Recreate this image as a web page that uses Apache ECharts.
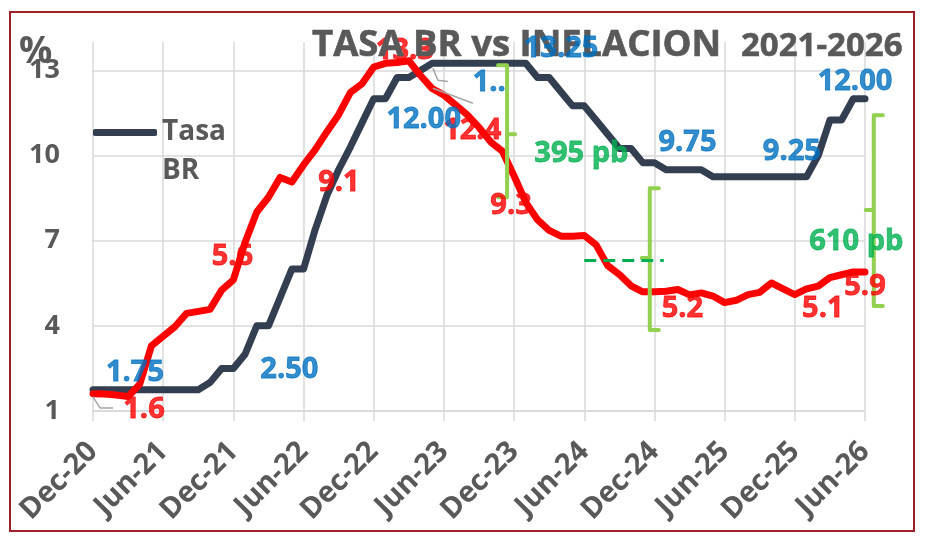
<!DOCTYPE html>
<html>
<head>
<meta charset="utf-8">
<script src="https://cdn.jsdelivr.net/npm/echarts@6/dist/echarts.min.js"></script>
<style>
html, body { margin: 0; padding: 0; background: #fff; }
#chart { width: 928px; height: 548px; }
</style>
</head>
<body>
<div id="chart"></div>
<script>
// etiquetas del eje x, una cada 6 meses (Dec-20 ... Jun-26)
var months = ['Dec-20', 'Jun-21', 'Dec-21', 'Jun-22', 'Dec-22', 'Jun-23',
    'Dec-23', 'Jun-24', 'Dec-24', 'Jun-25', 'Dec-25', 'Jun-26'];

// Tasa BR mensual, desde Dec-20 (indice 0) hasta Jun-26 (indice 66)
var tasaBR = [1.75, 1.75, 1.75, 1.75, 1.75, 1.75, 1.75, 1.75, 1.75, 1.75,
    2.0, 2.5, 2.5, 3.0, 4.0, 4.0, 5.0, 6.0, 6.0, 7.4,
    8.6, 9.5, 10.3, 11.15, 12.0, 12.0, 12.75, 12.75, 13.0,
    13.25, 13.25, 13.25, 13.25, 13.25, 13.25, 13.25, 13.25, 13.25,
    12.75, 12.75, 12.25, 11.75, 11.75, 11.25, 10.75, 10.25, 10.25, 9.75,
    9.75, 9.5, 9.5, 9.5, 9.5,
    9.25, 9.25, 9.25, 9.25, 9.25, 9.25, 9.25, 9.25, 9.25,
    10.0, 11.25, 11.25, 12.0, 12.0];

// Inflacion anual mensual
var inflacion = [1.61, 1.60, 1.56, 1.51, 1.95, 3.30, 3.63, 3.97, 4.44, 4.51,
    4.58, 5.26, 5.62, 6.94, 8.01, 8.53, 9.23, 9.07, 9.67, 10.21,
    10.84, 11.44, 12.22, 12.53, 13.12, 13.25, 13.28, 13.34, 12.82, 12.36,
    12.13, 11.78, 11.43, 10.99, 10.48, 10.15, 9.28, 8.35, 7.74, 7.36,
    7.16, 7.16, 7.18, 6.86, 6.12, 5.81, 5.41, 5.20, 5.20, 5.22,
    5.28, 5.09, 5.16, 5.05, 4.82, 4.90, 5.10, 5.18, 5.51, 5.30,
    5.10, 5.30, 5.40, 5.70, 5.80, 5.90, 5.90];

// meses con etiqueta de valor
var brLabelIdx = [0, 12, 24, 32, 36, 48, 60, 66];
var inflLabelIdx = [0, 12, 17, 27, 29, 36, 48, 60, 66];

// diferencias (pb) y llaves verdes
var spreadText = ['395 pb', '610 pb'];
var spreadX = [41.75, 65.26];
var spreadY = [10.08, 6.95];
var bracketX = [35.4, 47.6, 66.75];
var bracketTop = [13.18, 8.85, 11.42];
var bracketMid = [10.75, 6.39, 8.08];
var bracketBottom = [8.53, 3.85, 4.70];
var bracketSide = [-1, 1, 1];

var chart = echarts.init(document.getElementById('chart'));
var font = "'Open Sans', 'Noto Sans', sans-serif";
var gray = '#595959';
var gridColor = '#D9D9D9';
var blue = '#0070C0', red = '#FF0000', green = '#00B050';

// desplazamiento de cada etiqueta (px) respecto al punto
var brLabelPos = { 0: [42, -17], 12: [56, 1], 24: [50, 21], 32: [22, 19], 36: [47, -15], 48: [33, -20], 60: [-3, -25], 66: [-10, -17] };
var brLabelText = { 32: '1..' };
var inflLabelPos = { 0: [51, 16], 12: [-1, -23], 17: [47, 1], 27: [-4, -10], 29: [40, 42], 36: [-3, 30], 48: [28, 17], 60: [28, 14], 66: [0, 15] };

function seriesData(values) {
    return values.map(function (v, i) { return [i, v]; });
}

function labelData(idx, values, pos, texts, digits) {
    return idx.map(function (i) {
        return {
            value: [i, values[i]],
            label: {
                offset: pos[i],
                formatter: (texts && texts[i]) || values[i].toFixed(digits)
            }
        };
    });
}

function leader(points) {
    return {
        type: 'line', silent: true, symbol: 'none', clip: false, z: 3,
        lineStyle: { color: '#A6A6A6', width: 1.5 },
        data: points
    };
}

function labelStyle(color) {
    return {
        show: true, position: 'inside', color: color,
        fontFamily: font, fontWeight: 'bold', fontSize: 29,
        textBorderColor: color, textBorderWidth: 0.8
    };
}

var option = {
    backgroundColor: '#fff',
    animation: false,
    title: [
        { text: 'TASA BR vs INFLACION', left: 312, top: 28, padding: 0, z: 10,
          textStyle: { fontFamily: font, fontSize: 36.5, fontWeight: 'bold', color: gray, lineHeight: 36,
                       textBorderColor: gray, textBorderWidth: 0.6 } },
        { text: '2021-2026', left: 741, top: 30, padding: 0, z: 10,
          textStyle: { fontFamily: font, fontSize: 33, fontWeight: 'bold', color: gray, lineHeight: 33,
                       textBorderColor: gray, textBorderWidth: 0.6 } }
    ],
    legend: {
        data: ['Tasa BR'],
        left: 93,
        top: 74,
        padding: 0,
        icon: 'roundRect',
        itemWidth: 64,
        itemHeight: 7,
        formatter: '\nTasa\nBR',
        textStyle: { fontFamily: font, fontSize: 28, fontWeight: 'bold', color: gray, lineHeight: 39 }
    },
    grid: { left: 93, right: 63, top: 42, bottom: 137 },
    xAxis: {
        type: 'value',
        min: 0,
        max: 66,
        interval: 6,
        axisLine: { show: true, onZero: false, lineStyle: { color: gridColor, width: 1.5 } },
        axisTick: { show: true, length: 10, lineStyle: { color: gridColor, width: 1.5 } },
        splitLine: { show: true, lineStyle: { color: gridColor, width: 1.5 } },
        axisLabel: {
            rotate: 45,
            margin: 36,
            color: gray,
            fontFamily: font,
            fontSize: 29,
            fontWeight: 'bold',
            formatter: function (v) { return months[v / 6]; }
        }
    },
    yAxis: {
        type: 'value',
        min: 1,
        max: 14,
        interval: 3,
        axisLine: { show: false },
        axisTick: { show: false },
        axisLabel: { showMaxLabel: false, margin: 33, color: gray, fontFamily: font, fontSize: 27, fontWeight: 'bold' },
        splitLine: { showMaxLine: false, lineStyle: { color: [gridColor, gridColor, gridColor, gridColor, gridColor, 'rgba(0,0,0,0)'], width: 1.5 } }
    },
    graphic: [
        { type: 'rect', silent: true, z: 100,
          shape: { x: 10, y: 12, width: 904, height: 519 },
          style: { fill: 'none', stroke: '#A0202A', lineWidth: 2 } },
        { type: 'text', left: 19, top: 34, z: 5,
          style: { text: '%', fontFamily: font, fontSize: 37, fontWeight: 'bold', fill: gray } }
    ],
    series: [
        {
            name: 'Tasa BR',
            type: 'line',
            showSymbol: false,
            z: 2,
            lineStyle: { color: '#333F50', width: 7, cap: 'round', join: 'round' },
            itemStyle: { color: '#333F50' },
            data: seriesData(tasaBR)
        },
        {
            name: 'Inflacion',
            type: 'line',
            showSymbol: false,
            z: 3,
            lineStyle: { color: red, width: 7, cap: 'round', join: 'round' },
            itemStyle: { color: red },
            data: seriesData(inflacion)
        },
        {
            // llaves verdes entre tasa e inflacion
            type: 'custom',
            silent: true,
            clip: false,
            z: 4,
            data: bracketX.map(function (x, k) {
                return [x, bracketTop[k], bracketMid[k], bracketBottom[k], bracketSide[k]];
            }),
            encode: { x: 0, y: 1 },
            renderItem: function (params, api) {
                var x = api.value(0), s = api.value(4);
                var top = api.coord([x, api.value(1)]);
                var mid = api.coord([x, api.value(2)]);
                var bot = api.coord([x, api.value(3)]);
                return {
                    type: 'polyline',
                    shape: { points: [[top[0] + 9 * s, top[1]], top, mid, [mid[0] - 8 * s, mid[1]], mid, bot, [bot[0] + 9 * s, bot[1]]] },
                    style: { stroke: '#92D050', lineWidth: 4, fill: null, lineCap: 'round', lineJoin: 'round' }
                };
            }
        },
        {
            type: 'line', silent: true, symbol: 'none', z: 4,
            lineStyle: { color: green, width: 3, type: [12, 7] },
            data: [[42.0, 6.3], [48.8, 6.3]]
        },
        leader([[0, 1.5], [0.6, 1.11], [1.71, 1.11]]),
        leader([[29.06, 13.07], [29.49, 12.65], [30.34, 12.61]]),
        leader([[29.06, 12.37], [32.48, 11.84]]),
        {
            type: 'scatter', silent: true, symbolSize: 0, z: 12,
            itemStyle: { color: 'rgba(0,0,0,0)' },
            label: labelStyle(blue),
            data: labelData(brLabelIdx, tasaBR, brLabelPos, brLabelText, 2)
        },
        {
            type: 'scatter', silent: true, symbolSize: 0, z: 5,
            itemStyle: { color: 'rgba(0,0,0,0)' },
            label: labelStyle(red),
            data: labelData(inflLabelIdx, inflacion, inflLabelPos, null, 1)
        },
        {
            type: 'scatter', silent: true, symbolSize: 0, z: 5,
            itemStyle: { color: 'rgba(0,0,0,0)' },
            label: Object.assign(labelStyle(green), { formatter: function (p) { return p.name; } }),
            data: spreadText.map(function (t, k) { return { name: t, value: [spreadX[k], spreadY[k]] }; })
        }
    ]
};

chart.setOption(option);
window.onresize = function () {
    chart.resize();
};
</script>
</body>
</html>
